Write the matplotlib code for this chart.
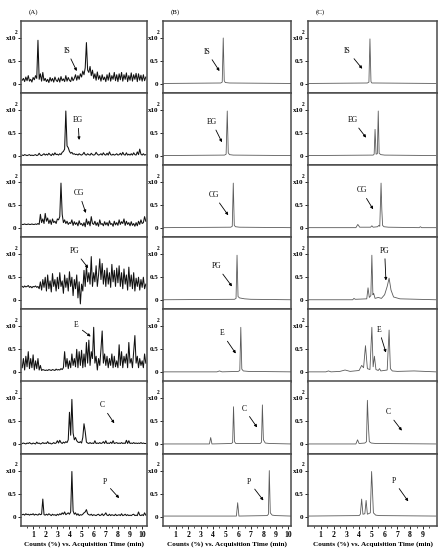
#! /usr/bin/env python3
# -*- coding: utf-8 -*-
import numpy as np
import matplotlib
matplotlib.use('Agg')
import matplotlib.pyplot as plt

plt.rcParams['font.family'] = ['Liberation Serif', 'DejaVu Serif']

compounds = ['IS', 'EG', 'CG', 'PG', 'E', 'C', 'P']

# column (A): noisy traces, one value every 0.1 min from 0.1 min
a_is = [0.08, 0.12, 0.05, 0.15, 0.07, 0.18, 0.06, 0.1, 0.04, 0.14,
        0.09, 0.18, 0.12, 0.95, 0.1, 0.22, 0.06, 0.25, 0.07, 0.12,
        0.05, 0.1, 0.03, 0.14, 0.06, 0.12, 0.04, 0.15, 0.08, 0.05,
        0.13, 0.04, 0.16, 0.07, 0.11, 0.05, 0.18, 0.06, 0.14, 0.08,
        0.05, 0.15, 0.07, 0.12, 0.2, 0.08, 0.18, 0.1, 0.22, 0.15,
        0.28, 0.2, 0.35, 0.9, 0.3, 0.25, 0.38, 0.18, 0.3, 0.12,
        0.22, 0.08, 0.26, 0.1, 0.18, 0.06, 0.2, 0.09, 0.15, 0.05,
        0.2, 0.08, 0.24, 0.06, 0.18, 0.1, 0.25, 0.07, 0.2, 0.05,
        0.22, 0.09, 0.25, 0.06, 0.2, 0.1, 0.24, 0.05, 0.18, 0.08,
        0.24, 0.06, 0.2, 0.1, 0.23, 0.05, 0.22, 0.08, 0.19, 0.06,
        0.2, 0.07, 0.15]
a_eg = [0.02, 0.01, 0.03, 0.02, 0.01, 0.02, 0.03, 0.01, 0.02, 0.01,
        0.02, 0.03, 0.01, 0.02, 0.06, 0.02, 0.01, 0.03, 0.05, 0.02,
        0.04, 0.02, 0.06, 0.03, 0.01, 0.05, 0.02, 0.07, 0.03, 0.04,
        0.02, 0.05, 0.03, 0.08, 0.1, 0.15, 0.98, 0.22, 0.18, 0.1,
        0.06, 0.08, 0.04, 0.05, 0.03, 0.04, 0.02, 0.05, 0.03, 0.02,
        0.04, 0.08, 0.03, 0.02, 0.05, 0.03, 0.02, 0.06, 0.03, 0.02,
        0.03, 0.08, 0.04, 0.02, 0.03, 0.05, 0.02, 0.07, 0.03, 0.02,
        0.06, 0.02, 0.09, 0.03, 0.02, 0.04, 0.02, 0.03, 0.05, 0.02,
        0.03, 0.06, 0.02, 0.08, 0.03, 0.02, 0.07, 0.02, 0.04, 0.02,
        0.05, 0.02, 0.07, 0.03, 0.02, 0.09, 0.03, 0.15, 0.04, 0.02,
        0.05, 0.02, 0.03]
a_cg = [0.08, 0.08, 0.09, 0.08, 0.08, 0.09, 0.08, 0.08, 0.09, 0.08,
        0.08, 0.09, 0.08, 0.1, 0.08, 0.3, 0.12, 0.2, 0.1, 0.32,
        0.15, 0.22, 0.1, 0.18, 0.08, 0.2, 0.12, 0.15, 0.1, 0.2,
        0.18, 0.25, 0.98, 0.3, 0.12, 0.18, 0.1, 0.15, 0.08, 0.12,
        0.1, 0.18, 0.06, 0.14, 0.08, 0.12, 0.05, 0.16, 0.08, 0.1,
        0.05, 0.12, 0.03, 0.2, 0.08, 0.15, 0.05, 0.25, 0.1, 0.08,
        0.15, 0.06, 0.12, 0.04, 0.18, 0.08, 0.1, 0.05, 0.14, 0.07,
        0.12, 0.05, 0.16, 0.08, 0.1, 0.04, 0.15, 0.07, 0.12, 0.06,
        0.18, 0.08, 0.14, 0.1, 0.2, 0.06, 0.15, 0.08, 0.12, 0.05,
        0.14, 0.06, 0.1, 0.04, 0.12, 0.05, 0.15, 0.08, 0.18, 0.1,
        0.12, 0.25, 0.15]
a_pg = [0.3, 0.28, 0.31, 0.29, 0.3, 0.32, 0.28, 0.3, 0.27, 0.3,
        0.29, 0.31, 0.28, 0.3, 0.25, 0.4, 0.22, 0.45, 0.28, 0.5,
        0.2, 0.55, 0.25, 0.42, 0.18, 0.58, 0.3, 0.45, 0.2, 0.5,
        0.25, 0.6, 0.3, 0.42, 0.15, 0.55, 0.28, 0.48, 0.2, 0.62,
        0.3, 0.5, 0.1, 0.45, 0.25, 0.55, 0.05, 0.4, -0.08, 0.35,
        0.2, 0.65, 0.3, 0.75, 0.4, 0.6, 0.35, 0.95, 0.3, 0.6,
        0.4, 0.75, 0.3, 0.55, 0.9, 0.45, 0.8, 0.35, 0.65, 0.3,
        0.7, 0.35, 0.6, 0.28, 0.78, 0.4, 0.65, 0.3, 0.7, 0.38,
        0.75, 0.3, 0.6, 0.25, 0.68, 0.35, 0.55, 0.22, 0.72, 0.3,
        0.55, 0.25, 0.6, 0.2, 0.48, 0.3, 0.5, 0.22, 0.45, 0.28,
        0.5, 0.25, 0.35]
a_e = [0.1, 0.3, 0.05, 0.35, 0.12, 0.45, 0.08, 0.3, 0.1, 0.38,
       0.05, 0.25, 0.08, 0.3, 0.05, 0.15, 0.04, 0.06, 0.05, 0.04,
       0.05, 0.04, 0.06, 0.05, 0.04, 0.06, 0.05, 0.04, 0.07, 0.05,
       0.06, 0.05, 0.08, 0.06, 0.1, 0.45, 0.12, 0.3, 0.08, 0.25,
       0.1, 0.4, 0.15, 0.3, 0.12, 0.5, 0.1, 0.45, 0.15, 0.48,
       0.1, 0.4, 0.12, 0.65, 0.2, 0.7, 0.15, 0.45, 0.3, 0.98,
       0.2, 0.35, 0.05, 0.3, 0.15, 0.5, 0.9, 0.2, 0.4, 0.15,
       0.35, 0.1, 0.3, 0.15, 0.4, 0.1, 0.35, 0.12, 0.25, 0.1,
       0.6, 0.15, 0.45, 0.1, 0.35, 0.2, 0.4, 0.1, 0.65, 0.2,
       0.3, 0.1, 0.45, 0.8, 0.2, 0.35, 0.1, 0.3, 0.15, 0.25,
       0.1, 0.4, 0.2]
a_c = [0.02, 0.03, 0.02, 0.01, 0.03, 0.02, 0.04, 0.02, 0.01, 0.03,
       0.02, 0.01, 0.05, 0.02, 0.03, 0.01, 0.02, 0.04, 0.02, 0.03,
       0.02, 0.06, 0.02, 0.03, 0.01, 0.02, 0.04, 0.02, 0.03, 0.08,
       0.03, 0.09, 0.04, 0.02, 0.05, 0.03, 0.06, 0.04, 0.1, 0.7,
       0.2, 0.98, 0.25, 0.1, 0.15, 0.08, 0.05, 0.04, 0.06, 0.03,
       0.15, 0.45, 0.28, 0.05, 0.03, 0.02, 0.04, 0.02, 0.03, 0.02,
       0.08, 0.02, 0.03, 0.02, 0.04, 0.02, 0.03, 0.06, 0.02, 0.08,
       0.02, 0.03, 0.02, 0.05, 0.02, 0.08, 0.02, 0.03, 0.04, 0.02,
       0.03, 0.02, 0.04, 0.02, 0.03, 0.02, 0.09, 0.02, 0.08, 0.02,
       0.03, 0.02, 0.04, 0.02, 0.03, 0.02, 0.03, 0.02, 0.04, 0.02,
       0.03, 0.02, 0.02]
a_p = [0.04, 0.05, 0.03, 0.06, 0.04, 0.05, 0.03, 0.05, 0.04, 0.06,
       0.03, 0.05, 0.04, 0.03, 0.06, 0.04, 0.05, 0.38, 0.04, 0.03,
       0.05, 0.03, 0.06, 0.04, 0.02, 0.05, 0.03, 0.04, 0.02, 0.05,
       0.03, 0.06, 0.04, 0.08, 0.05, 0.1, 0.04, 0.06, 0.08, 0.05,
       0.1, 0.98, 0.12, 0.05, 0.08, 0.03, 0.06, 0.02, 0.04, 0.03,
       0.05, 0.08, 0.1, 0.15, 0.06, 0.04, 0.03, 0.05, 0.02, 0.04,
       0.03, 0.02, 0.04, 0.05, 0.02, 0.03, 0.06, 0.02, 0.04, 0.08,
       0.03, 0.02, 0.05, 0.02, 0.04, 0.03, 0.02, 0.05, 0.02, 0.03,
       0.04, 0.02, 0.06, 0.02, 0.03, 0.05, 0.02, 0.04, 0.02, 0.03,
       0.02, 0.04, 0.05, 0.02, 0.03, 0.02, 0.1, 0.03, 0.02, 0.04,
       0.02, 0.08, 0.03]
col_a = [a_is, a_eg, a_cg, a_pg, a_e, a_c, a_p]
t_a = 0.1 + 0.1 * np.arange(len(a_is))

# column (B): clean standard chromatograms (time, counts)
b_is = ([0.05, 4.6, 4.72, 4.8, 4.88, 4.96, 5.3, 10.2],
        [0.01, 0.02, 0.04, 1.0, 0.07, 0.03, 0.02, 0.01])
b_eg = ([0.05, 4.9, 5.03, 5.12, 5.2, 5.3, 5.6, 10.2],
        [0.01, 0.02, 0.04, 0.98, 0.07, 0.03, 0.02, 0.01])
b_cg = ([0.05, 5.4, 5.52, 5.6, 5.68, 5.78, 6.1, 10.2],
        [0.01, 0.02, 0.04, 0.98, 0.06, 0.03, 0.02, 0.01])
b_pg = ([0.05, 5.7, 5.82, 5.9, 5.98, 6.1, 6.5, 7.0, 10.2],
        [0.01, 0.02, 0.04, 0.98, 0.08, 0.05, 0.03, 0.02, 0.01])
b_e = ([0.05, 4.3, 4.5, 4.7, 6.0, 6.12, 6.2, 6.28, 6.4, 6.8, 10.2],
       [0.01, 0.01, 0.03, 0.01, 0.02, 0.04, 0.98, 0.07, 0.03, 0.02, 0.01])
b_c = ([0.05, 3.7, 3.8, 3.9, 5.45, 5.55, 5.62, 5.7, 5.8, 7.75, 7.85,
        7.92, 8.0, 8.15, 8.5, 10.2],
       [0.01, 0.01, 0.15, 0.01, 0.02, 0.04, 0.82, 0.06, 0.02, 0.02,
        0.05, 0.86, 0.1, 0.03, 0.02, 0.01])
b_p = ([0.05, 5.85, 5.95, 6.05, 8.3, 8.4, 8.47, 8.55, 8.7, 9.0, 10.2],
       [0.01, 0.01, 0.3, 0.01, 0.02, 0.05, 1.0, 0.08, 0.03, 0.02, 0.01])
col_b = [b_is, b_eg, b_cg, b_pg, b_e, b_c, b_p]

# column (C): sample chromatograms (time, counts)
c_is = ([0.05, 4.65, 4.77, 4.85, 4.93, 5.0, 5.3, 10.0],
        [0.01, 0.02, 0.04, 0.98, 0.05, 0.02, 0.02, 0.01])
c_eg = ([0.05, 5.1, 5.18, 5.25, 5.33, 5.43, 5.5, 5.57, 5.7, 6.0, 10.0],
        [0.01, 0.02, 0.04, 0.58, 0.04, 0.05, 0.98, 0.06, 0.03, 0.02, 0.01])
c_cg = ([0.05, 3.75, 3.9, 4.05, 4.9, 5.0, 5.1, 5.45, 5.55, 5.62, 5.72,
         5.78, 5.84, 5.95, 6.3, 8.7, 8.8, 8.9, 10.0],
        [0.01, 0.01, 0.08, 0.02, 0.02, 0.05, 0.02, 0.03, 0.06, 0.04, 0.98,
         0.4, 0.06, 0.03, 0.02, 0.01, 0.03, 0.01, 0.01])
c_pg = ([0.05, 3.5, 3.6, 3.7, 4.6, 4.7, 4.8, 4.92, 5.0, 5.08, 5.14, 5.25,
         5.5, 5.75, 6.0, 6.2, 6.35, 6.5, 6.7, 7.2, 10.0],
        [0.01, 0.01, 0.04, 0.02, 0.03, 0.27, 0.06, 0.1, 0.98, 0.12, 0.15,
         0.04, 0.06, 0.04, 0.12, 0.3, 0.48, 0.22, 0.07, 0.03, 0.01])
c_e = ([0.05, 1.4, 1.6, 1.8, 2.5, 2.9, 3.3, 4.0, 4.2, 4.35, 4.5, 4.65,
        4.85, 5.0, 5.1, 5.2, 5.32, 5.5, 5.6, 5.7, 6.2, 6.35, 6.45, 6.6,
        7.0, 8.3, 10.0],
       [0.01, 0.01, 0.03, 0.01, 0.02, 0.05, 0.02, 0.04, 0.15, 0.1, 0.58,
        0.08, 0.06, 0.98, 0.12, 0.35, 0.06, 0.04, 0.08, 0.03, 0.05, 0.92,
        0.08, 0.03, 0.02, 0.03, 0.01])
c_c = ([0.05, 3.75, 3.88, 4.0, 4.45, 4.58, 4.65, 4.72, 4.8, 4.95, 5.3, 10.0],
       [0.01, 0.01, 0.1, 0.02, 0.03, 0.06, 0.96, 0.45, 0.06, 0.03, 0.02, 0.01])
c_p = ([0.05, 4.0, 4.1, 4.2, 4.3, 4.45, 4.55, 4.65, 4.88, 4.98, 5.05,
        5.12, 5.3, 5.6, 10.0],
       [0.01, 0.02, 0.05, 0.38, 0.05, 0.06, 0.35, 0.05, 0.08, 0.98, 0.55,
        0.08, 0.03, 0.02, 0.01])
col_c = [c_is, c_eg, c_cg, c_pg, c_e, c_c, c_p]

# label positions (text, arrow tip) in data units
ann_a = [((3.8, 0.72), (4.6, 0.28)), ((4.7, 0.78), (4.8, 0.35)),
         ((4.8, 0.76), (5.35, 0.33)), ((4.45, 1.07), (5.55, 0.7)),
         ((4.55, 1.02), (5.75, 0.78)), ((6.7, 0.85), (7.7, 0.46)),
         ((6.9, 0.75), (8.1, 0.4))]
ann_b = [((3.5, 0.7), (4.5, 0.28)), ((3.9, 0.74), (4.7, 0.3)),
         ((4.05, 0.72), (5.2, 0.28)), ((4.3, 0.74), (5.5, 0.3)),
         ((4.7, 0.85), (5.8, 0.41)), ((6.45, 0.78), (7.5, 0.37)),
         ((6.85, 0.76), (8.0, 0.35))]
ann_c = [((3.1, 0.72), (4.25, 0.33)), ((3.5, 0.78), (4.55, 0.4)),
         ((4.2, 0.82), (5.1, 0.41)), ((6.0, 1.08), (6.1, 0.43)),
         ((5.55, 0.93), (6.1, 0.43)), ((6.25, 0.7), (7.35, 0.3)),
         ((6.7, 0.78), (7.85, 0.33))]

W, H = 444, 550
fig = plt.figure(figsize=(W / 100, H / 100), dpi=100)

columns = [
    dict(left=21, width=126, xmax=10.4, ticks=range(1, 11), color='#111111', lw=0.75, data=col_a, ann=ann_a, tag='(A)'),
    dict(left=163, width=128, xmax=10.2, ticks=range(1, 11), color='#5a5a5a', lw=0.6, data=col_b, ann=ann_b, tag='(B)'),
    dict(left=308, width=129, xmax=10.1, ticks=range(1, 10), color='#5a5a5a', lw=0.6, data=col_c, ann=ann_c, tag='(C)'),
]
top, row_h = 21, 72.1

for col in columns:
    for i, name in enumerate(compounds):
        y0 = top + row_h * (i + 1)
        ax = fig.add_axes([col['left'] / W, 1 - y0 / H, col['width'] / W, row_h / H])
        if col['data'] is col_a:
            ax.plot(t_a, col['data'][i], color=col['color'], lw=col['lw'])
        else:
            t, v = col['data'][i]
            ax.plot(t, v, color=col['color'], lw=col['lw'])
        ax.set_xlim(0, col['xmax'])
        ax.set_ylim(-0.2, 1.37)
        ax.set_yticks([0, 0.5, 1.0])
        ax.set_yticklabels(['0', '0.5', 'x10'], fontsize=5, fontweight='bold')
        ax.set_xticks(list(col['ticks']))
        ax.set_xticks(np.arange(0.5, col['xmax'], 1.0), minor=True)
        ax.tick_params(axis='both', which='major', length=2, width=0.6, pad=1.5, direction='out')
        ax.tick_params(axis='x', which='minor', length=1.2, width=0.5)
        ax.text(-0.04, 1.13, '2', transform=ax.get_yaxis_transform(), fontsize=4,
                fontweight='bold', ha='center', va='center')
        if i < len(compounds) - 1:
            ax.tick_params(axis='x', which='both', labelbottom=False, length=0)
        else:
            ax.set_xticklabels([str(k) for k in col['ticks']], fontsize=5.5, fontweight='bold')
            ax.set_xlabel('Counts (%) vs. Acquisition Time (min)', fontsize=5.2,
                          fontweight='bold', labelpad=2)
        for sp in ax.spines.values():
            sp.set_color('#4a4a4a')
            sp.set_linewidth(1.1)
        (tx, ty), (hx, hy) = col['ann'][i]
        ax.annotate(name, xy=(hx, hy), xytext=(tx, ty), fontsize=5.5, ha='center', va='center',
                    arrowprops=dict(arrowstyle='-|>', color='black', lw=0.6,
                                    mutation_scale=4, shrinkA=1, shrinkB=0))
    fig.text((col['left'] + 12) / W, 1 - 12 / H, col['tag'], fontsize=5, ha='center', va='center')

plt.savefig('out.png', dpi=100)
